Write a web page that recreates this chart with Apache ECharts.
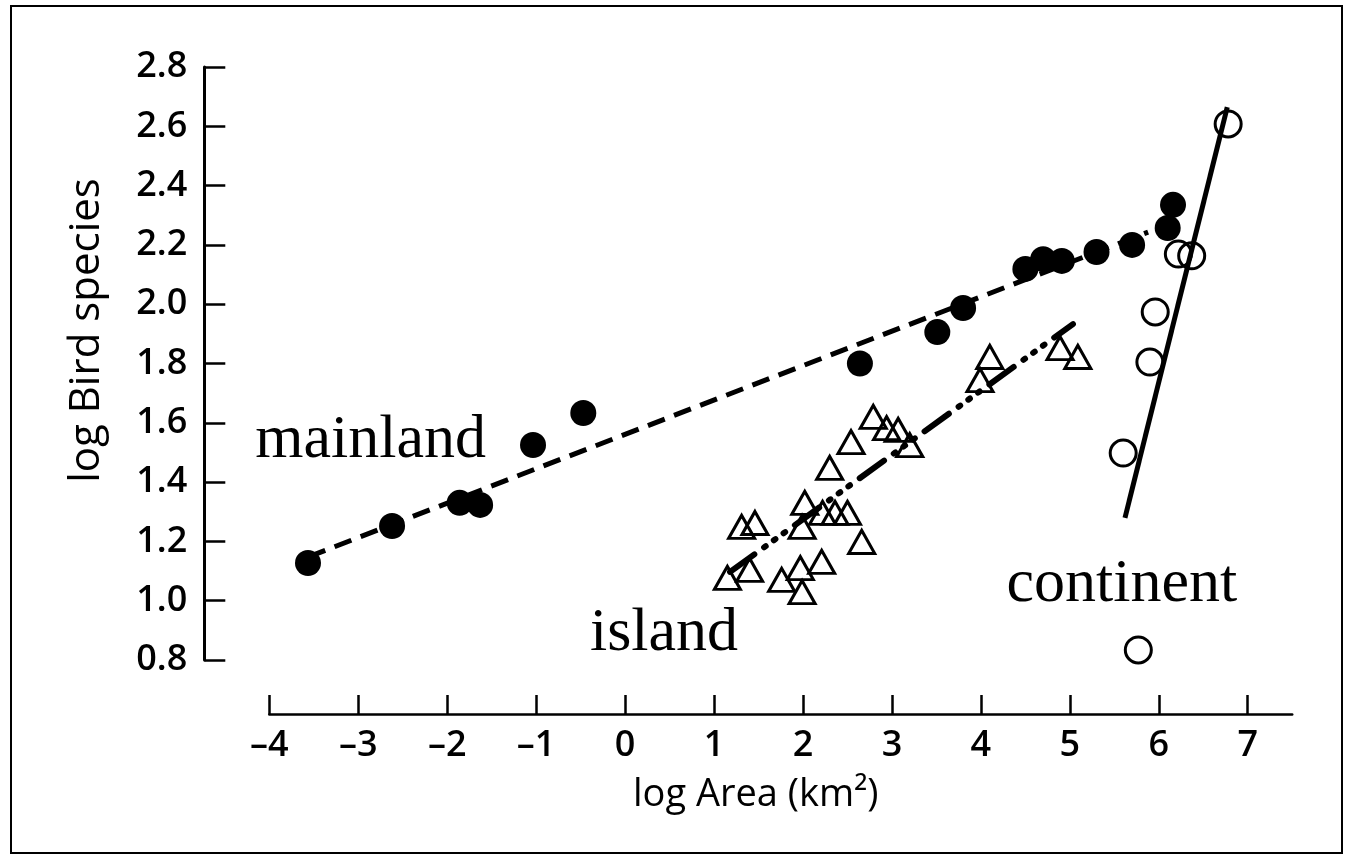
<!DOCTYPE html>
<html><head><meta charset="utf-8">
<script src="https://cdn.jsdelivr.net/npm/echarts@6/dist/echarts.min.js"></script>
<style>html,body{margin:0;padding:0;background:#fff}#c{width:1348px;height:859px}</style>
</head><body><div id="c"></div>
<script>
// ---- data ----
const xTicks = [-4,-3,-2,-1,0,1,2,3,4,5,6,7];
const yTicks = [0.8,1.0,1.2,1.4,1.6,1.8,2.0,2.2,2.4,2.6,2.8];

const mainlandX = [-3.565,-2.62,-1.86,-1.63,-1.035,-0.47,2.64,3.51,3.80,4.50,4.70,4.91,5.30,5.70,6.10,6.16];
const mainlandY = [1.127,1.252,1.330,1.323,1.525,1.633,1.800,1.906,1.987,2.119,2.152,2.146,2.176,2.200,2.257,2.335];

const islandX = [1.15,1.31,1.46,1.40,1.76,1.99,1.97,2.21,2.02,1.99,2.22,2.36,2.50,2.66,2.30,2.54,2.79,2.94,3.07,3.20,3.99,4.10,4.89,5.09];
const islandY = [1.077,1.249,1.262,1.104,1.070,1.029,1.110,1.131,1.330,1.249,1.296,1.296,1.296,1.198,1.448,1.535,1.620,1.582,1.576,1.525,1.744,1.822,1.852,1.822];

const continentX = [5.77,5.60,5.90,5.96,6.22,6.37,6.78];
const continentY = [0.834,1.498,1.805,1.974,2.169,2.163,2.608];

const mainlandFitX = [-3.56, 5.88];
const mainlandFitY = [1.148, 2.243];
const islandFitX = [1.18, 5.035];
const islandFitY = [1.097, 1.933];
const continentFitX = [5.62, 6.77];
const continentFitY = [1.279, 2.665];

const annotations = ['mainland','island','continent'];
const annotationX = [-2.86, 0.437, 5.586];
const annotationY = [1.539, 0.888, 1.053];

const xTitle = 'log Area (km²)';
const yTitle = 'log Bird species';

// ---- build ----
const zip = (a,b) => a.map((v,i)=>[v,b[i]]);
const chart = echarts.init(document.getElementById('c'), null, {renderer:'canvas'});
const tickFont = {fontFamily:'"Open Sans", sans-serif', fontWeight:600, fontSize:36, color:'#000'};
const opt = {
  animation:false,
  backgroundColor:'#fff',
  grid:{left:269.3, right:55.8, top:67, bottom:199, containLabel:false},
  xAxis:{
    type:'value', min:-4, max:7.5, interval:1, offset:54,
    axisLine:{show:true, onZero:false, lineStyle:{color:'#000', width:2.5}},
    axisTick:{show:true, inside:true, length:19, lineStyle:{color:'#000', width:2.5}, customValues:xTicks},
    axisLabel:Object.assign({margin:14, customValues:xTicks,
      formatter:v => v<0 ? '\u2013'+Math.abs(v) : String(v)}, tickFont),
    splitLine:{show:false},
    name:xTitle, nameLocation:'middle', nameGap:62,
    nameTextStyle:{fontFamily:'"Open Sans", sans-serif', fontSize:38, color:'#000', padding:[0,50,0,0]}
  },
  yAxis:{
    type:'value', min:0.8, max:2.8, interval:0.2, offset:65,
    axisLine:{show:true, onZero:false, lineStyle:{color:'#000', width:3}},
    axisTick:{show:true, inside:true, length:21, lineStyle:{color:'#000', width:2.5}, customValues:yTicks},
    axisLabel:Object.assign({margin:17, customValues:yTicks, formatter:v => v.toFixed(1)}, tickFont),
    splitLine:{show:false},
    name:yTitle, nameLocation:'middle', nameGap:96,
    nameTextStyle:{fontFamily:'"Open Sans", sans-serif', fontSize:42, color:'#000', padding:[0,0,0,66]}
  },
  graphic:[{type:'rect', shape:{x:11,y:6,width:1331,height:847}, style:{fill:'none', stroke:'#000', lineWidth:2}, silent:true}],
  series:[
    {type:'scatter', name:'mainland', data:zip(mainlandX,mainlandY), symbol:'circle', symbolSize:26,
     itemStyle:{color:'#000', opacity:1}, z:2},
    {type:'scatter', name:'island', data:zip(islandX,islandY), symbol:'triangle', symbolSize:[26,23],
     itemStyle:{color:'transparent', borderColor:'#000', borderWidth:3, opacity:1}, z:2},
    {type:'scatter', name:'continent', data:zip(continentX,continentY), symbol:'circle', symbolSize:26,
     itemStyle:{color:'transparent', borderColor:'#000', borderWidth:3, opacity:1}, z:2},
    {type:'line', data:zip(mainlandFitX,mainlandFitY), symbol:'none', z:3,
     lineStyle:{color:'#000', width:5, type:[18,10], opacity:1}},
    {type:'line', data:zip(islandFitX,islandFitY), symbol:'none', z:3,
     lineStyle:{color:'#000', width:6, type:[30,12,2,10,2,10,2,12], cap:'round', opacity:1}},
    {type:'line', data:zip(continentFitX,continentFitY), symbol:'none', z:3,
     lineStyle:{color:'#000', width:5, opacity:1}},
    {type:'scatter', data:zip(annotationX,annotationY).map((p,i)=>({value:p, name:annotations[i]})),
     symbolSize:0, z:4, silent:true, itemStyle:{opacity:1},
     label:{show:true, position:'inside', formatter:p=>p.name, fontFamily:'"Liberation Serif", "Times New Roman", serif',
       fontSize:62, color:'#000', opacity:1, align:'center', verticalAlign:'middle'}}
  ]
};
chart.setOption(opt);
</script></body></html>
